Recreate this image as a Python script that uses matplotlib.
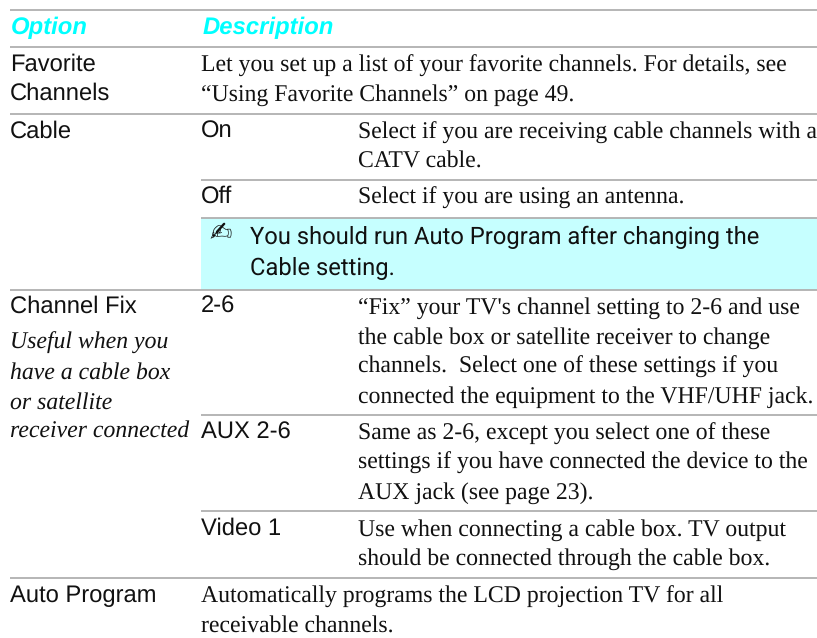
import matplotlib
matplotlib.use("Agg")
from matplotlib import pyplot as plt
from matplotlib.patches import Rectangle

plt.rcParams["text.hinting"] = "no_hinting"
plt.rcParams["text.hinting_factor"] = 8

headers = ["Option", "Description"]
options = ["Favorite", "Channels", "Cable", "Channel Fix", "Auto Program"]
option_notes = ["Useful when you", "have a cable box", "or satellite", "receiver connected"]
settings = ["On", "Off", "2-6", "AUX 2-6", "Video 1"]
wide_lines = [
    "Let you set up a list of your favorite channels. For details, see",
    "\u201cUsing Favorite Channels\u201d on page 49.",
    "Automatically programs the LCD projection TV for all",
    "receivable channels.",
]
descriptions = [
    "Select if you are receiving cable channels with a",
    "CATV cable.",
    "Select if you are using an antenna.",
    "\u201cFix\u201d your TV's channel setting to 2-6 and use",
    "the cable box or satellite receiver to change",
    "channels.  Select one of these settings if you",
    "connected the equipment to the VHF/UHF jack.",
    "Same as 2-6, except you select one of these",
    "settings if you have connected the device to the",
    "AUX jack (see page 23).",
    "Use when connecting a cable box. TV output",
    "should be connected through the cable box.",
]
note_lines = ["You should run Auto Program after changing the", "Cable setting."]

# baselines in pixels from the top of the page
option_y = [71, 100, 138, 313, 602]
option_note_y = [349, 379, 409, 437]
setting_y = [138, 203, 313, 439, 535]
wide_y = [72, 101, 603, 633]
description_y = [139, 168, 204, 314, 344, 373, 403, 440, 469, 499, 536, 565]
note_y = [244, 275]
full_rules = [10, 47, 114, 290, 578]
short_rules = [180, 218, 415, 511]

RULE = "#b0b0b0"
SANS = "Liberation Sans"
SERIF = "Liberation Serif"
BODY = 17.1

fig = plt.figure(figsize=(8.17, 6.38), dpi=100)
ax = fig.add_axes([0, 0, 1, 1])
ax.set_xlim(0, 817)
ax.set_ylim(638, 0)
ax.axis("off")


def put(x, y, s, **kw):
    ax.text(x, y, s, va="baseline", ha="left", color=kw.pop("color", "#111111"), **kw)


ax.add_patch(Rectangle((201, 218), 616, 72, facecolor="#c6ffff", edgecolor="none"))
for y in full_rules:
    ax.plot([10, 817], [y, y], color=RULE, lw=1.3, solid_capstyle="butt")
for y in short_rules:
    ax.plot([201, 817], [y, y], color=RULE, lw=1.3, solid_capstyle="butt")

put(11, 34, headers[0], family=SANS, style="italic", weight="bold", size=BODY * 1.005, color="#00ffff")
put(203, 34, headers[1], family=SANS, style="italic", weight="bold", size=BODY * 1.005, color="#00ffff")

for s, y in zip(options, option_y):
    put(10, y, s, family=SANS, size=BODY)
for s, y in zip(option_notes, option_note_y):
    put(10, y, s, family=SERIF, style="italic", size=BODY)
for s, y in zip(settings, setting_y):
    put(201, y, s, family=SANS, size=BODY)
for s, y in zip(wide_lines, wide_y):
    put(201, y, s, family=SERIF, size=BODY)
for s, y in zip(descriptions, description_y):
    put(358, y, s, family=SERIF, size=BODY)

put(209, 241, "\u270d", family="DejaVu Sans", size=BODY * 1.13)
for s, y in zip(note_lines, note_y):
    put(250, y, s, family="Roboto", size=BODY)

fig.savefig("out.png", dpi=100)
